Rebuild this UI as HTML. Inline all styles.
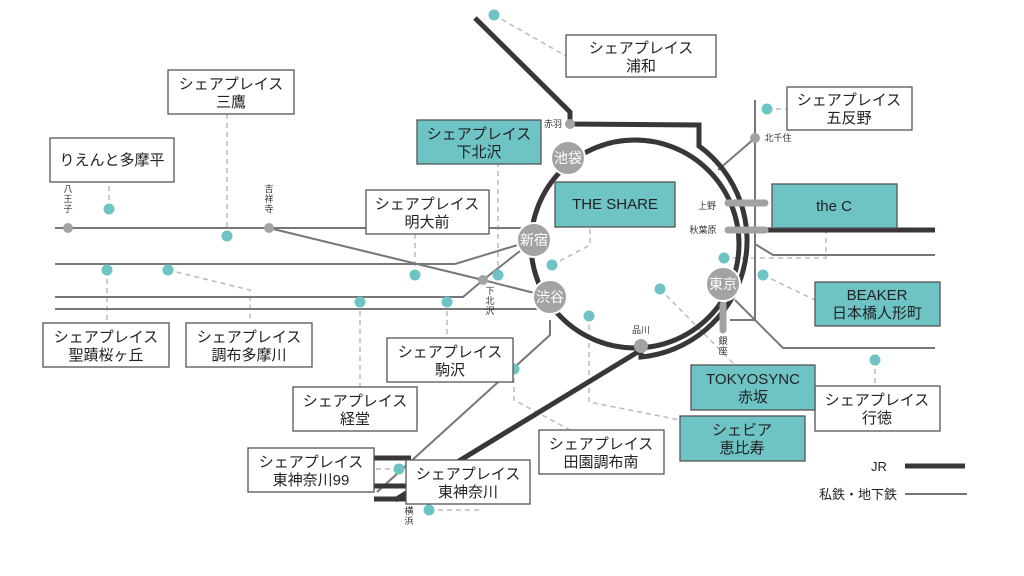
<!DOCTYPE html>
<html><head><meta charset="utf-8"><style>
body{margin:0;background:#fff}
svg{display:block}
text{font-family:"Liberation Sans","Noto Sans CJK JP",sans-serif;text-anchor:middle;fill:#222}
.b{fill:#fff;stroke:#555;stroke-width:1.3}
.t{fill:#6ec3c4;stroke:#555;stroke-width:1.3}
.g{stroke:#777;stroke-width:2;fill:none}
.j{stroke:#3a3536;stroke-width:5;fill:none}
.d{stroke:#bbb;stroke-width:1.5;stroke-dasharray:5 4;fill:none}
.dot{fill:#6ec3c4}
.s{fill:#a3a3a3}
.st{fill:#fff;font-size:14px}
.sm{font-size:9px;fill:#333}
.bt{font-size:15px}
</style></head><body>
<svg width="1024" height="576" viewBox="0 0 1024 576">
<g class="d">
<path d="M494 15 L566 56"/>
<path d="M767 109 L787 109"/>
<path d="M109 209 L109 182"/>
<path d="M227 236 L227 114"/>
<path d="M107 270 L107 323"/>
<path d="M168 270 L250 290 L250 323"/>
<path d="M415 275 L415 234"/>
<path d="M498 275 L498 164"/>
<path d="M552 265 L590 245 L590 227"/>
<path d="M360 302 L360 387"/>
<path d="M447 302 L447 338"/>
<path d="M724 258 L826 258 L826 228"/>
<path d="M763 275 L815 300"/>
<path d="M660 289 L735 365"/>
<path d="M589 316 L589 402 L680 420"/>
<path d="M514 369 L514 400 L570 430"/>
<path d="M875 360 L875 386"/>
<path d="M399 469 L374 469"/>
<path d="M429 510 L480 510"/>
</g>
<g class="g">
<path d="M55 228 L534 228"/>
<path d="M269 228 L483 280 L550 297"/>
<path d="M55 264 L455 264 L534 240"/>
<path d="M55 297 L463 297 L483 280 L534 240"/>
<path d="M55 309 L550 309"/>
<path d="M550 320 L550 335 L377 492"/>
<path d="M755 100 L755 320 L730 320"/>
<path d="M755 138 L718 170"/>
<path d="M755 244 L773 255 L935 255"/>
<path d="M735 300 L783 348 L935 348"/>
<path d="M905 494 L967 494"/>
</g>
<circle cx="635" cy="244" r="104" class="j"/>
<path class="j" d="M475 18 L570 112 L570 124 L699 125 L699 146 A117 117 0 0 1 641 357 L641 350 L395 500"/>
<path class="j" d="M765 230 L935 230"/>
<path class="j" d="M905 466 L965 466"/>
<path class="j" d="M374 458 L411 458 M374 486 L411 486 M374 499 L411 499"/>
<g stroke="#a3a3a3" stroke-width="7" stroke-linecap="round">
<path d="M728 203 L765 203"/><path d="M728 230 L765 230"/><path d="M723 305 L723 330"/>
</g>
<circle cx="570" cy="124" r="5" class="s"/>
<circle cx="755" cy="138" r="5" class="s"/>
<circle cx="68" cy="228" r="5" class="s"/>
<circle cx="269" cy="228" r="5" class="s"/>
<circle cx="483" cy="280" r="5" class="s"/>
<circle cx="641" cy="346" r="7" class="s"/>
<g stroke="#fff" stroke-width="2">
<circle cx="568" cy="158" r="17" class="s"/><circle cx="534" cy="240" r="17" class="s"/>
<circle cx="550" cy="297" r="17" class="s"/><circle cx="723" cy="284" r="17" class="s"/>
</g>
<text x="568" y="163" class="st">池袋</text><text x="534" y="245" class="st">新宿</text>
<text x="550" y="302" class="st">渋谷</text><text x="723" y="289" class="st">東京</text>
<text x="553" y="127" class="sm">赤羽</text><text x="778" y="141" class="sm">北千住</text>
<text x="707" y="209" class="sm">上野</text><text x="703" y="233" class="sm">秋葉原</text>
<text x="641" y="333" class="sm">品川</text>
<text x="68" y="192" class="sm">八</text><text x="68" y="202" class="sm">王</text><text x="68" y="212" class="sm">子</text>
<text x="269" y="192" class="sm">吉</text><text x="269" y="202" class="sm">祥</text><text x="269" y="212" class="sm">寺</text>
<text x="490" y="294" class="sm">下</text><text x="490" y="304" class="sm">北</text><text x="490" y="314" class="sm">沢</text>
<text x="723" y="344" class="sm">銀</text><text x="723" y="354" class="sm">座</text>
<text x="409" y="514" class="sm">横</text><text x="409" y="524" class="sm">浜</text>
<g class="dot">
<circle cx="494" cy="15" r="5.5"/><circle cx="767" cy="109" r="5.5"/><circle cx="109" cy="209" r="5.5"/>
<circle cx="227" cy="236" r="5.5"/><circle cx="107" cy="270" r="5.5"/><circle cx="168" cy="270" r="5.5"/>
<circle cx="415" cy="275" r="5.5"/><circle cx="498" cy="275" r="5.5"/><circle cx="552" cy="265" r="5.5"/>
<circle cx="360" cy="302" r="5.5"/><circle cx="447" cy="302" r="5.5"/><circle cx="724" cy="258" r="5.5"/>
<circle cx="763" cy="275" r="5.5"/><circle cx="660" cy="289" r="5.5"/><circle cx="589" cy="316" r="5.5"/>
<circle cx="514" cy="369" r="5.5"/><circle cx="875" cy="360" r="5.5"/><circle cx="399" cy="469" r="5.5"/>
<circle cx="429" cy="510" r="5.5"/>
</g>
<g>
<rect x="566" y="35" width="150" height="42" class="b"/><text x="641" y="53" class="bt">シェアプレイス</text><text x="641" y="71" class="bt">浦和</text>
<rect x="168" y="70" width="126" height="44" class="b"/><text x="231" y="89" class="bt">シェアプレイス</text><text x="231" y="107" class="bt">三鷹</text>
<rect x="50" y="138" width="124" height="44" class="b"/><text x="112" y="165" class="bt">りえんと多摩平</text>
<rect x="417" y="120" width="124" height="44" class="t"/><text x="479" y="139" class="bt">シェアプレイス</text><text x="479" y="157" class="bt">下北沢</text>
<rect x="366" y="190" width="123" height="44" class="b"/><text x="427" y="209" class="bt">シェアプレイス</text><text x="427" y="227" class="bt">明大前</text>
<rect x="555" y="182" width="120" height="45" class="t"/><text x="615" y="209" class="bt">THE SHARE</text>
<rect x="772" y="184" width="125" height="44" class="t"/><text x="834" y="211" class="bt">the C</text>
<rect x="787" y="87" width="125" height="43" class="b"/><text x="849" y="105" class="bt">シェアプレイス</text><text x="849" y="123" class="bt">五反野</text>
<rect x="815" y="282" width="125" height="44" class="t"/><text x="877" y="300" class="bt">BEAKER</text><text x="877" y="318" class="bt">日本橋人形町</text>
<rect x="43" y="323" width="126" height="44" class="b"/><text x="106" y="342" class="bt">シェアプレイス</text><text x="106" y="360" class="bt">聖蹟桜ヶ丘</text>
<rect x="186" y="323" width="126" height="44" class="b"/><text x="249" y="342" class="bt">シェアプレイス</text><text x="249" y="360" class="bt">調布多摩川</text>
<rect x="387" y="338" width="126" height="44" class="b"/><text x="450" y="357" class="bt">シェアプレイス</text><text x="450" y="375" class="bt">駒沢</text>
<rect x="293" y="387" width="124" height="44" class="b"/><text x="355" y="406" class="bt">シェアプレイス</text><text x="355" y="424" class="bt">経堂</text>
<rect x="539" y="430" width="125" height="44" class="b"/><text x="601" y="449" class="bt">シェアプレイス</text><text x="601" y="467" class="bt">田園調布南</text>
<rect x="248" y="448" width="126" height="44" class="b"/><text x="311" y="467" class="bt">シェアプレイス</text><text x="311" y="485" class="bt">東神奈川99</text>
<rect x="406" y="460" width="124" height="44" class="b"/><text x="468" y="479" class="bt">シェアプレイス</text><text x="468" y="497" class="bt">東神奈川</text>
<rect x="815" y="386" width="125" height="45" class="b"/><text x="877" y="405" class="bt">シェアプレイス</text><text x="877" y="423" class="bt">行徳</text>
<rect x="691" y="365" width="124" height="45" class="t"/><text x="753" y="384" class="bt">TOKYOSYNC</text><text x="753" y="402" class="bt">赤坂</text>
<rect x="680" y="416" width="125" height="45" class="t"/><text x="742" y="435" class="bt">シェビア</text><text x="742" y="453" class="bt">恵比寿</text>
</g>
<text x="879" y="471" style="font-size:13px">JR</text>
<text x="858" y="499" style="font-size:13px">私鉄・地下鉄</text>
</svg>
</body></html>
